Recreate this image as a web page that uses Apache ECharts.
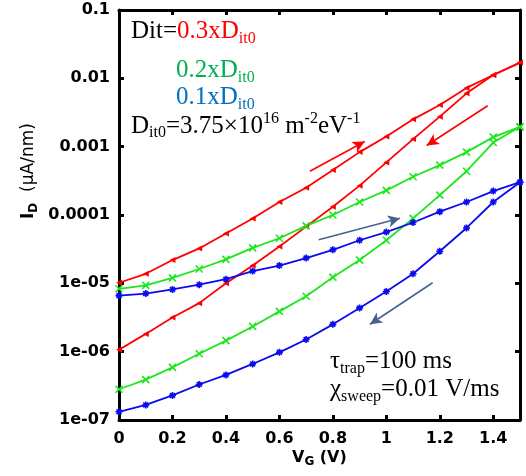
<!DOCTYPE html>
<html>
<head>
<meta charset="utf-8">
<script src="https://cdn.jsdelivr.net/npm/echarts@6/dist/echarts.min.js"></script>
<style>
html,body{margin:0;padding:0;background:#fff;}
#chart{width:526px;height:476px;}
</style>
</head>
<body>
<div id="chart"></div>
<script>
// Gate voltage sweep points (V)
var vg = [0, 0.1, 0.2, 0.3, 0.4, 0.5, 0.6, 0.7, 0.8, 0.9, 1.0, 1.1, 1.2, 1.3, 1.4, 1.5];
var xTickLabels = ['0', '0.2', '0.4', '0.6', '0.8', '1', '1.2', '1.4'];
var yTickLabels = ['1e-07', '1e-06', '1e-05', '0.0001', '0.001', '0.01', '0.1'];

// Dit = 0.3 x Dit0 (red)
var redFwd = [1.02e-5, 1.38e-5, 2.19e-5, 3.24e-5, 5.37e-5, 8.91e-5, 1.55e-4, 2.51e-4, 4.57e-4, 8.32e-4, 1.41e-3, 2.51e-3, 4.07e-3, 7.24e-3, 1.12e-2, 1.70e-2];
var redRev = [1.07e-6, 1.82e-6, 3.16e-6, 5.13e-6, 1.00e-5, 1.82e-5, 3.47e-5, 6.76e-5, 1.32e-4, 2.69e-4, 5.89e-4, 1.29e-3, 2.75e-3, 6.03e-3, 1.12e-2, 1.70e-2];
// Dit = 0.2 x Dit0 (green)
var greenFwd = [8.32e-6, 9.33e-6, 1.20e-5, 1.62e-5, 2.24e-5, 3.31e-5, 4.57e-5, 6.92e-5, 1.00e-4, 1.55e-4, 2.29e-4, 3.63e-4, 5.37e-4, 8.32e-4, 1.38e-3, 1.95e-3];
var greenRev = [2.82e-7, 3.89e-7, 5.89e-7, 9.33e-7, 1.45e-6, 2.34e-6, 3.89e-6, 6.46e-6, 1.23e-5, 2.19e-5, 4.27e-5, 8.91e-5, 1.95e-4, 4.37e-4, 1.15e-3, 1.95e-3];
// Dit = 0.1 x Dit0 (blue)
var blueFwd = [6.61e-6, 7.08e-6, 8.13e-6, 9.55e-6, 1.15e-5, 1.51e-5, 1.82e-5, 2.34e-5, 3.09e-5, 4.27e-5, 5.62e-5, 7.76e-5, 1.12e-4, 1.55e-4, 2.24e-4, 3.02e-4];
var blueRev = [1.32e-7, 1.66e-7, 2.29e-7, 3.31e-7, 4.57e-7, 6.61e-7, 9.77e-7, 1.51e-6, 2.51e-6, 4.37e-6, 7.59e-6, 1.38e-5, 2.95e-5, 6.46e-5, 1.55e-4, 3.02e-4];

// Sweep direction arrows [[V1, I1], [V2, I2]] (arrowhead at second point)
var redArrows = [[[0.714, 4.36e-4], [0.919, 1.19e-3]], [[1.379, 3.97e-3], [1.151, 1.04e-3]]];
var slateArrows = [[[0.747, 4.34e-5], [1.051, 8.95e-5]], [[1.173, 1.02e-5], [0.939, 2.52e-6]]];

var RED = '#ff0000', GREEN = '#1ee61e', BLUE = '#0a0af0', SLATE = '#47628e';

function pairs(ys) { return vg.map(function (v, i) { return [v, ys[i]]; }); }
function arrowData(list, color) {
  return list.map(function (a) {
    return [{ coord: a[0], lineStyle: { color: color, width: 1.6, type: 'solid' } }, { coord: a[1] }];
  });
}

var xPath = 'path://M0,0L10,10M10,0L0,10';
var starPath = 'path://M0,5L10,5M5,0L5,10M1.5,1.5L8.5,8.5M8.5,1.5L1.5,8.5';

function mkSeries(name, ys, color, symbol, size, rotate, arrows, arrowColor) {
  var s = {
    name: name, type: 'line', data: pairs(ys), xAxisIndex: 0, yAxisIndex: 0,
    symbol: symbol, symbolSize: size, symbolRotate: rotate || 0, showAllSymbol: true,
    lineStyle: { color: color, width: 1.8 },
    itemStyle: { color: color, borderColor: color, borderWidth: symbol.indexOf('path') === 0 ? 1.6 : 0 },
    emphasis: { disabled: true }, silent: true
  };
  if (arrows) {
    s.markLine = {
      silent: true, symbol: ['none', 'arrow'], symbolSize: [9, 12],
      label: { show: false }, animation: false,
      data: arrowData(arrows, arrowColor)
    };
  }
  return s;
}

var serif = 'Liberation Serif, Times New Roman, serif';
function big(c) { return { fontFamily: serif, fontSize: 25, fill: c, lineHeight: 30, verticalAlign: 'middle' }; }
function sub(c) { return { fontFamily: serif, fontSize: 16, fill: c, lineHeight: 10, verticalAlign: 'bottom' }; }
function sup(c) { return { fontFamily: serif, fontSize: 16, fill: c, lineHeight: 15, verticalAlign: 'top' }; }
var rich = {
  k: big('#000'), ks: sub('#000'), kp: sup('#000'),
  r: big(RED), rs: sub(RED),
  g: big('#00b050'), gs: sub('#00b050'),
  b: big('#0070c0'), bs: sub('#0070c0')
};

function txt(x, y, text) {
  return { type: 'text', left: x, top: y, silent: true, z: 100,
    style: { text: text, rich: rich, fill: '#000' } };
}

var axisSans = 'DejaVu Sans, sans-serif';
var chart = echarts.init(document.getElementById('chart'), null, { renderer: 'canvas' });
chart.setOption({
  animation: false,
  backgroundColor: '#fff',
  grid: { left: 119, right: 6, top: 10, bottom: 56, containLabel: false },
  xAxis: [{
    type: 'value', min: 0, max: 1.5, interval: 0.2, position: 'bottom',
    axisLine: { show: true, onZero: false, lineStyle: { color: '#000', width: 3 } },
    axisTick: { show: true, inside: true, length: 5, lineStyle: { color: '#000', width: 3 } },
    splitLine: { show: false },
    axisLabel: { show: true, margin: 11, showMaxLabel: false, color: '#000', fontFamily: axisSans, fontWeight: 'bold', fontSize: 16,
      formatter: function (v) { var i = Math.round(v / 0.2); return xTickLabels[i] !== undefined && Math.abs(v - i * 0.2) < 1e-6 ? xTickLabels[i] : ''; } }
  }, {
    type: 'value', min: 0, max: 1.5, interval: 0.2, position: 'top',
    axisLine: { show: true, onZero: false, lineStyle: { color: '#000', width: 3 } },
    axisTick: { show: true, inside: true, length: 5, lineStyle: { color: '#000', width: 3 } },
    splitLine: { show: false }, axisLabel: { show: false }
  }],
  yAxis: [{
    type: 'log', logBase: 10, min: 1e-7, max: 0.1, splitNumber: 6, position: 'left',
    axisLine: { show: true, onZero: false, lineStyle: { color: '#000', width: 3 } },
    axisTick: { show: true, inside: true, length: 5, lineStyle: { color: '#000', width: 3 } },
    minorTick: { show: false }, splitLine: { show: false },
    axisLabel: { show: true, margin: 9, color: '#000', fontFamily: axisSans, fontWeight: 'bold', fontSize: 16,
      formatter: function (v) { var e = Math.round(Math.log10(v)); return yTickLabels[e + 7] || ''; } }
  }, {
    type: 'log', logBase: 10, min: 1e-7, max: 0.1, splitNumber: 6, position: 'right',
    axisLine: { show: true, onZero: false, lineStyle: { color: '#000', width: 3 } },
    axisTick: { show: true, inside: true, length: 5, lineStyle: { color: '#000', width: 3 } },
    minorTick: { show: false }, splitLine: { show: false }, axisLabel: { show: false }
  }],
  series: [
    mkSeries('red fwd', redFwd, RED, 'triangle', 6, 90, redArrows, RED),
    mkSeries('red rev', redRev, RED, 'triangle', 6, 90),
    mkSeries('green fwd', greenFwd, GREEN, xPath, 7, 0),
    mkSeries('green rev', greenRev, GREEN, xPath, 7, 0),
    mkSeries('blue fwd', blueFwd, BLUE, starPath, 7, 0, slateArrows, SLATE),
    mkSeries('blue rev', blueRev, BLUE, starPath, 7, 0)
  ],
  graphic: [
    txt(131, 19, '{k|Dit=}{r|0.3xD}{rs|it0}'),
    txt(176, 58, '{g|0.2xD}{gs|it0}'),
    txt(176, 85, '{b|0.1xD}{bs|it0}'),
    txt(131, 111, '{k|D}{ks|it0}{k|=3.75×10}{kp|16}{k| m}{kp|-2}{k|eV}{kp|-1}'),
    txt(330, 349, '{k|τ}{ks|trap}{k|=100 ms}'),
    txt(330, 377, '{k|χ}{ks|sweep}{k|=0.01 V/ms}'),
    { type: 'text', left: 292, top: 450, silent: true,
      style: { text: '{a|V}{s|G}{a| (V)}', rich: {
        a: { fontFamily: axisSans, fontWeight: 'bold', fontSize: 16, fill: '#000', lineHeight: 20, verticalAlign: 'middle' },
        s: { fontFamily: axisSans, fontWeight: 'bold', fontSize: 12, fill: '#000', lineHeight: 8, verticalAlign: 'bottom' } } } },
    { type: 'text', x: 18, y: 219, rotation: Math.PI / 2, silent: true,
      style: { text: '{a|I}{s|D}{n|  (µA/nm)}', rich: {
        a: { fontFamily: axisSans, fontWeight: 'bold', fontSize: 17, fill: '#000', lineHeight: 22, verticalAlign: 'middle' },
        s: { fontFamily: axisSans, fontWeight: 'bold', fontSize: 12, fill: '#000', lineHeight: 8, verticalAlign: 'bottom' },
        n: { fontFamily: axisSans, fontSize: 17, fill: '#000', lineHeight: 22, verticalAlign: 'middle' } } } }
  ]
});
</script>
</body>
</html>
